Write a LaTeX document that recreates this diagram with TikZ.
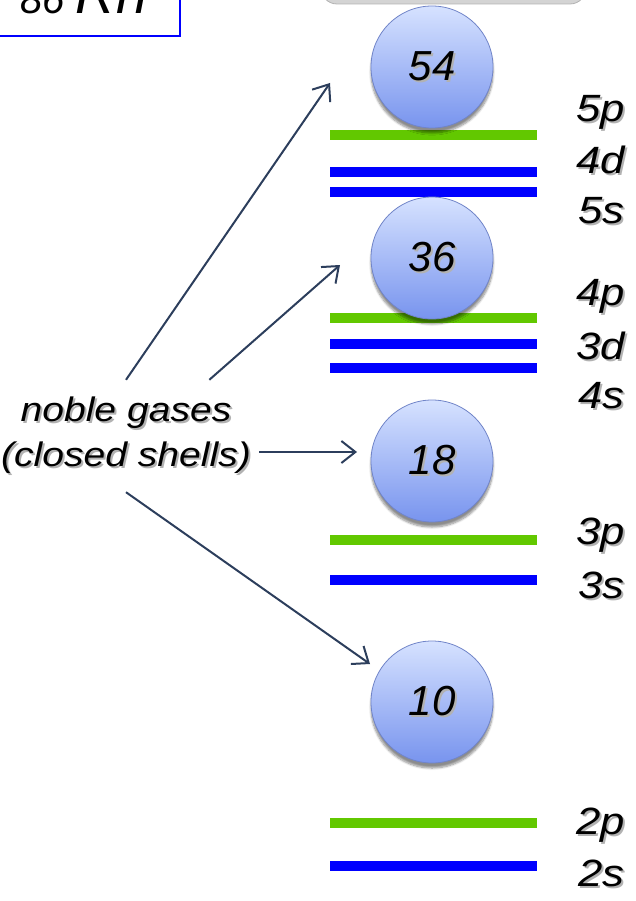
\documentclass[tikz,border=0pt]{standalone}
\usepackage{fontspec}
\setmainfont{Liberation Sans}
\newfontfamily\widesans[FakeStretch=1.15]{Liberation Sans}
\usetikzlibrary{arrows.meta,shadows.blur}

\definecolor{lvlgreen}{RGB}{98,200,0}
\definecolor{lvlblue}{RGB}{0,0,255}
\definecolor{arrowcol}{RGB}{44,62,92}
\definecolor{balltop}{RGB}{214,226,255}
\definecolor{ballmid}{RGB}{172,192,252}
\definecolor{ballbot}{RGB}{120,148,238}
\definecolor{balledge}{RGB}{112,132,200}
\definecolor{capgrey}{RGB}{212,212,212}

% text with a soft grey drop shadow behind it
\newcommand\shadowtext[1]{\makebox[0pt][l]{\hspace{2pt}\raisebox{-2pt}{\textcolor{black!30}{#1}}}#1}

\begin{document}
\begin{tikzpicture}[x=1pt,y=-1pt,
  level/.style={line width=10pt},
  sband/.style={level, draw=lvlblue},
  pband/.style={level, draw=lvlgreen},
  ball/.style={circle, minimum size=122pt, inner sep=0pt,
    top color=balltop, middle color=ballmid, bottom color=ballbot,
    draw=balledge, line width=0.8pt,
    blur shadow={shadow xshift=0pt, shadow yshift=-5pt, shadow blur steps=8, shadow opacity=45},
    font=\fontsize{42}{46}\selectfont\itshape},
  orb/.style={anchor=base east, inner sep=0pt, font=\widesans\fontsize{38}{40}\selectfont\itshape},
  pointer/.style={draw=arrowcol, line width=2pt,
    -{Straight Barb[length=14pt,width=22pt,line width=2pt]}}
]
\useasboundingbox (0,0) rectangle (635,901);
\clip (0,0) rectangle (635,901);

% header boxes, cut by the top edge
\draw[draw=blue, line width=1.5pt] (-10,-80) rectangle (180,36);
\node[anchor=base west, inner sep=0pt, font=\itshape] (rn) at (20,14)
  {\fontsize{40}{44}\selectfont 86 \fontsize{56}{60}\selectfont Rn};
\draw[fill=capgrey, draw=gray!60, line width=0.8pt, rounded corners=16pt]
  (321,-60) rectangle (586,4);

% energy levels
\draw[pband] (330,135) -- (537,135);
\draw[sband] (330,172) -- (537,172);
\draw[sband] (330,192) -- (537,192);
\draw[pband] (330,318) -- (537,318);
\draw[sband] (330,344) -- (537,344);
\draw[sband] (330,368) -- (537,368);
\draw[pband] (330,540) -- (537,540);
\draw[sband] (330,580) -- (537,580);
\draw[pband] (330,823) -- (537,823);
\draw[sband] (330,866) -- (537,866);

% orbital labels
\node[orb] (l5p) at (625,122) {\shadowtext{5p}};
\node[orb] (l4d) at (625,174) {\shadowtext{4d}};
\node[orb] (l5s) at (625,223) {\shadowtext{5s}};
\node[orb] (l4p) at (625,305) {\shadowtext{4p}};
\node[orb] (l3d) at (625,359) {\shadowtext{3d}};
\node[orb] (l4s) at (625,408) {\shadowtext{4s}};
\node[orb] (l3p) at (625,544) {\shadowtext{3p}};
\node[orb] (l3s) at (625,598) {\shadowtext{3s}};
\node[orb] (l2p) at (625,834) {\shadowtext{2p}};
\node[orb] (l2s) at (625,886) {\shadowtext{2s}};

% shell closures
\node[ball] (c54) at (432,67)  {\shadowtext{54}};
\node[ball] (c36) at (432,258) {\shadowtext{36}};
\node[ball] (c18) at (432,461) {\shadowtext{18}};
\node[ball] (c10) at (432,702) {\shadowtext{10}};

% caption and pointers
\node[align=center, inner xsep=8pt, minimum height=112pt,
  font=\widesans\fontsize{34}{45}\selectfont\itshape] (ng) at (126,436)
  {\shadowtext{noble gases}\\\shadowtext{(closed shells)}};

\coordinate (t54) at (330,83);
\coordinate (t36) at (340,265);
\coordinate (t18) at (357,452);
\coordinate (t10) at (370,664);

\draw[pointer] (ng.north) -- (t54);
\draw[pointer] (ng.34) -- (t36);
\draw[pointer] (ng.east |- t18) -- (t18);
\draw[pointer] (ng.south) -- (t10);
\end{tikzpicture}
\end{document}
